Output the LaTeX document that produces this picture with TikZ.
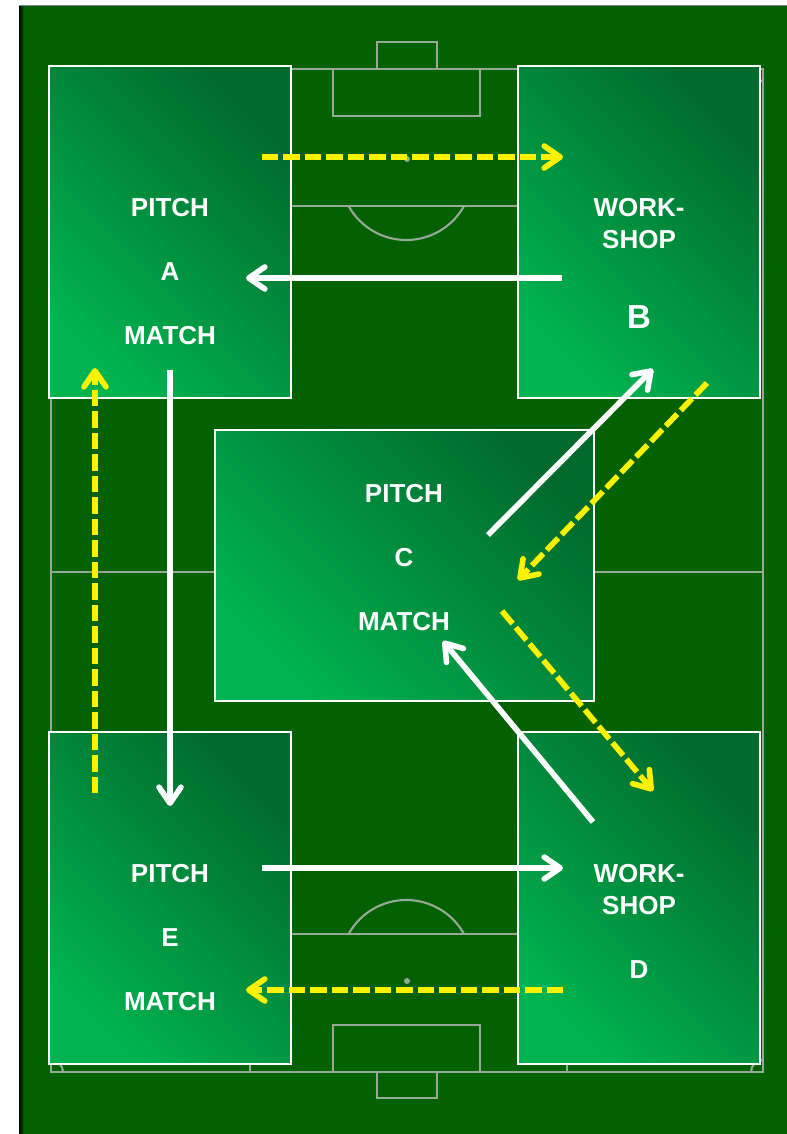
\documentclass[tikz,border=0pt]{standalone}
\usepackage{fontspec}
\setmainfont{Liberation Sans}
\usetikzlibrary{arrows.meta}
\definecolor{turf}{RGB}{3,97,2}
\definecolor{chalk}{RGB}{150,168,150}
\definecolor{boxdark}{RGB}{0,106,45}
\definecolor{boxlight}{RGB}{0,180,80}

\begin{document}
\begin{tikzpicture}[x=0.02cm, y=-0.02cm,
  chalkline/.style={chalk, line width=1.2pt},
  zone/.style={draw=white, line width=1.1pt, top color=boxdark, bottom color=boxlight, shading angle=-45, inner sep=0pt},
  txt/.style={white, font=\bfseries\fontsize{14.8}{18}\selectfont, inner sep=0pt},
  walk/.style={white, line width=3.2pt, -{Straight Barb[length=0.32cm,width=0.44cm,round]}},
  run/.style={yellow, line width=3.2pt, dash pattern=on 0.33cm off 0.1cm, -{Straight Barb[length=0.32cm,width=0.44cm,round]}}]
\useasboundingbox (0,0) rectangle (787,1134);
\fill[white] (0,0) rectangle (787,1134);
\fill[turf] (19,5) rectangle (787,1134);
\shade[left color=black, right color=turf] (19,5) rectangle (24,1134);
\draw[gray, line width=0.5pt] (19,5) -- (787,5);

\draw[chalkline] (51,69) rectangle (763,1072);
\draw[chalkline] (51,572) -- (763,572);
\draw[chalkline] (250,69) rectangle (567,206);
\draw[chalkline] (333,69) rectangle (480,116);
\draw[chalkline] (377,42) rectangle (437,69);
\draw[chalkline] (464,206) arc[start angle=-29, end angle=-151, radius=1.32cm];
\fill[chalk] (407,159) circle[radius=0.06cm];
\draw[chalkline] (250,934) rectangle (567,1072);
\draw[chalkline] (333,1025) rectangle (480,1072);
\draw[chalkline] (377,1072) rectangle (437,1098);
\draw[chalkline] (464,934) arc[start angle=29, end angle=151, radius=1.32cm];
\fill[chalk] (407,981) circle[radius=0.06cm];
\draw[chalkline] (63,69) arc[start angle=0, end angle=-90, radius=0.24cm];
\draw[chalkline] (751,69) arc[start angle=180, end angle=270, radius=0.24cm];
\draw[chalkline] (63,1072) arc[start angle=0, end angle=90, radius=0.24cm];
\draw[chalkline] (751,1072) arc[start angle=180, end angle=90, radius=0.24cm];

\node[zone, minimum width=4.84cm, minimum height=6.64cm] (pitchA) at (170,232) {};
\node[zone, minimum width=4.84cm, minimum height=6.64cm] (shopB) at (639,232) {};
\node[zone, minimum width=7.58cm, minimum height=5.42cm] (pitchC) at (404.5,565.5) {};
\node[zone, minimum width=4.84cm, minimum height=6.64cm] (shopD) at (639,898) {};
\node[zone, minimum width=4.84cm, minimum height=6.64cm] (pitchE) at (170,898) {};

\node[txt] (a1) at (170,208) {PITCH};
\node[txt] (a2) at (170,272) {A};
\node[txt] (a3) at (170,336) {MATCH};
\node[txt] (b1) at (639,208) {WORK-};
\node[txt] (b2) at (639,240) {SHOP};
\node[txt, font=\bfseries\fontsize{19}{22}\selectfont] (b3) at (639,317) {B};
\node[txt] (c1) at (404,494) {PITCH};
\node[txt] (c2) at (404,558) {C};
\node[txt] (c3) at (404,622) {MATCH};
\node[txt] (d1) at (639,874) {WORK-};
\node[txt] (d2) at (639,906) {SHOP};
\node[txt] (d3) at (639,970) {D};
\node[txt] (e1) at (170,874) {PITCH};
\node[txt] (e2) at (170,938) {E};
\node[txt] (e3) at (170,1002) {MATCH};

\coordinate (ab0) at (262,157);
\coordinate (ab1) at (563,157);
\coordinate (ba0) at (562,278);
\coordinate (ba1) at (246,278);
\coordinate (ae0) at (170,370);
\coordinate (ae1) at (170,806);
\coordinate (ea0) at (95,793);
\coordinate (ea1) at (95,368);
\coordinate (cb0) at (488,535);
\coordinate (cb1) at (653,369);
\coordinate (bc0) at (707,383);
\coordinate (bc1) at (518,580);
\coordinate (cd0) at (502,611);
\coordinate (cd1) at (653,791);
\coordinate (dc0) at (593,822);
\coordinate (dc1) at (443,641);
\coordinate (ed0) at (262,868);
\coordinate (ed1) at (563,868);
\coordinate (de0) at (563,990);
\coordinate (de1) at (246,990);

\draw[run] (ab0) -- (ab1);
\draw[walk] (ba0) -- (ba1);
\draw[walk] (ae0) -- (ae1);
\draw[run] (ea0) -- (ea1);
\draw[walk] (cb0) -- (cb1);
\draw[run] (bc0) -- (bc1);
\draw[run] (cd0) -- (cd1);
\draw[walk] (dc0) -- (dc1);
\draw[walk] (ed0) -- (ed1);
\draw[run] (de0) -- (de1);
\end{tikzpicture}
\end{document}
